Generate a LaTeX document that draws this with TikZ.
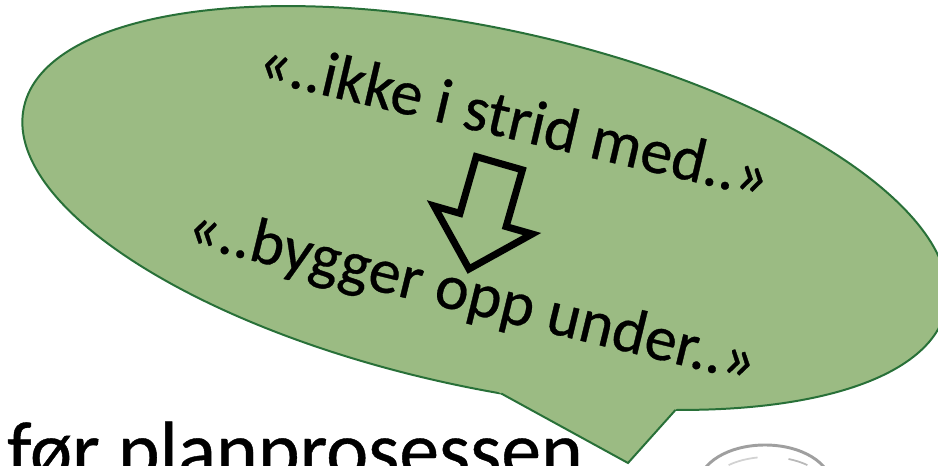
\documentclass[tikz,border=0pt]{standalone}
\usepackage{fontspec}
\setmainfont{Carlito}[FakeBold=0.5]
\usetikzlibrary{calc}
\usetikzlibrary{intersections}
\definecolor{bubblegreen}{RGB}{155,187,131}
\definecolor{bubbleline}{RGB}{40,112,56}
\tikzset{
 bubbleedge/.style={draw=bubbleline, line width=1.7pt},
 quote/.style={anchor=base west, inner sep=0, font=\fontsize{54.5}{64}\selectfont},
}
\begin{document}
\begin{tikzpicture} [x=.03cm, y=.03cm]
\useasboundingbox (0,0) rectangle (938,465);
\clip (0,0) rectangle (938,465);
% speech bubble
\filldraw[fill=bubblegreen, bubbleedge, name path=bubble, rotate around={-12.35:(485,257)}] (485,257) ellipse [x radius=472, y radius=179];
\coordinate (tailtip) at (628,2);
\path[name path=tailleft] (tailtip) -- (451,99);
\path[name path=tailright] (tailtip) -- (697,79);
\path[name intersections={of=bubble and tailleft, by=tailL}];
\path[name intersections={of=bubble and tailright, by=tailR}];
\fill[bubblegreen] (tailtip) -- (451,99) -- (697,79) -- cycle;
\draw[bubbleline, line width=1.7pt, line join=miter] (tailL) -- (tailtip) -- (tailR);
% texts
\node[quote, rotate=-13.2] (line1) at (255,386) {«..ikke i strid med..»};
\node[quote, rotate=-13.7] (line2) at (184,221) {«..bygger opp under..»};
\draw[black, line width=6pt, line join=miter, shift={(469,196)}, rotate=-16] (0,0) -- (51,51) -- (24,51) -- (24,110) -- (-24,110) -- (-24,51) -- (-51,51) -- cycle;
\node[anchor=base west, inner sep=0, font=\fontsize{68}{80}\selectfont] (before) at (7,-12) {før planprosessen};
% glass
\draw[gray!75, line width=2.5pt] (765,-20) ellipse [x radius=66, y radius=40];
\draw[gray!35, line width=1.5pt] (768,-25) ++(131:60 and 33) arc[start angle=131, end angle=100, x radius=60, y radius=33];
\draw[gray!55, line width=1.5pt] (768,-25) ++(70:60 and 33) arc[start angle=70, end angle=49, x radius=60, y radius=33];
\end{tikzpicture}
\end{document}
